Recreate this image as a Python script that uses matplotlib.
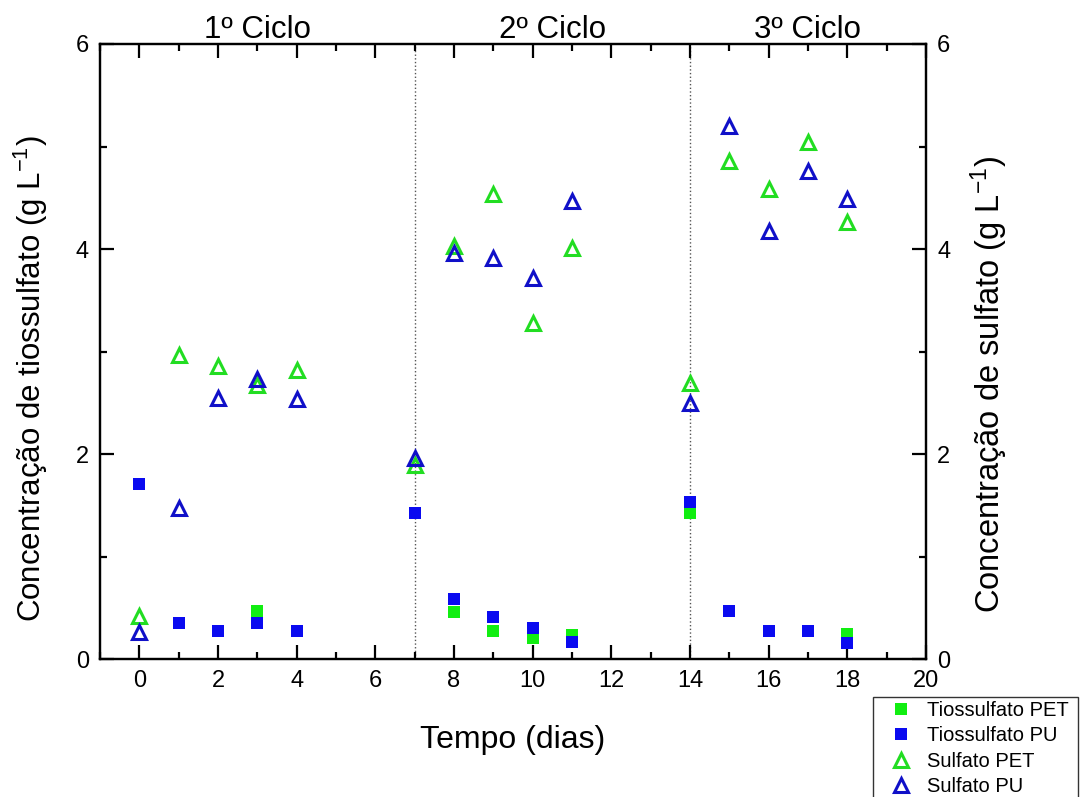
import matplotlib
matplotlib.use("Agg")
import matplotlib.pyplot as plt
from matplotlib.ticker import MultipleLocator

plt.rcParams['font.family'] = ['Liberation Sans', 'DejaVu Sans']
plt.rcParams['mathtext.fontset'] = 'custom'
plt.rcParams['mathtext.rm'] = 'Liberation Sans'
plt.rcParams['mathtext.it'] = 'Liberation Sans'

# dados
dias = [0, 1, 2, 3, 4, 7, 8, 9, 10, 11, 14, 15, 16, 17, 18]
tio_pet = [1.71, 0.35, 0.27, 0.47, 0.27, 1.42, 0.46, 0.27, 0.21, 0.23, 1.42, 0.47, 0.27, 0.27, 0.24]
tio_pu = [1.71, 0.35, 0.27, 0.35, 0.27, 1.42, 0.59, 0.41, 0.30, 0.17, 1.53, 0.47, 0.27, 0.27, 0.16]
sulf_pet = [0.42, 2.97, 2.86, 2.67, 2.82, 1.89, 4.03, 4.54, 3.28, 4.01, 2.69, 4.86, 4.59, 5.04, 4.26]
sulf_pu = [0.26, 1.47, 2.55, 2.73, 2.54, 1.96, 3.96, 3.91, 3.72, 4.47, 2.50, 5.20, 4.18, 4.76, 4.49]

ciclos = ['1º Ciclo', '2º Ciclo', '3º Ciclo']
ciclos_x = [3, 10.5, 17]
divisoes = [7, 14]

verde = '#11ee11'
azul = '#0a0af0'
verde_tri = '#22dd22'
azul_tri = '#1010c8'

fig = plt.figure(figsize=(10.8, 7.97), dpi=100)
ax = fig.add_axes([0.0926, 0.1731, 0.7648, 0.7717])
ax2 = ax.twinx()

for x in divisoes:
    ax.axvline(x, color='#555555', linestyle=':', linewidth=1.0, zorder=1)

h1, = ax.plot(dias, tio_pet, 's', color=verde, markersize=9, markeredgewidth=0,
              linestyle='none', label='Tiossulfato PET', zorder=3)
h2, = ax.plot(dias, tio_pu, 's', color=azul, markersize=9, markeredgewidth=0,
              linestyle='none', label='Tiossulfato PU', zorder=4)
h3, = ax2.plot(dias, sulf_pet, '^', markerfacecolor='none', markeredgecolor=verde_tri,
               markersize=10, markeredgewidth=2.2, linestyle='none', label='Sulfato PET')
h4, = ax2.plot(dias, sulf_pu, '^', markerfacecolor='none', markeredgecolor=azul_tri,
               markersize=10, markeredgewidth=2.2, linestyle='none', label='Sulfato PU')

ax.set_xlim(-1, 20)
ax.set_ylim(0, 6)
ax2.set_ylim(0, 6)

ax.xaxis.set_major_locator(MultipleLocator(2))
ax.xaxis.set_minor_locator(MultipleLocator(1))
for a in (ax, ax2):
    a.yaxis.set_major_locator(MultipleLocator(2))
    a.yaxis.set_minor_locator(MultipleLocator(1))
    for s in a.spines.values():
        s.set_linewidth(1.6)

ax.tick_params(which='both', direction='in', top=True, width=1.6, labelsize=17, pad=8)
ax.tick_params(which='major', length=10)
ax.tick_params(which='minor', length=5)
ax2.tick_params(which='both', direction='in', width=1.6, labelsize=17, pad=8)
ax2.tick_params(which='major', length=10)
ax2.tick_params(which='minor', length=5)

ax.set_xlabel('Tempo (dias)', fontsize=23, labelpad=24)
ax.set_ylabel('Concentração de tiossulfato (g L$^{-1}$)', fontsize=22.5)
ax2.set_ylabel('Concentração de sulfato (g L$^{-1}$)', fontsize=23.5)
ax.yaxis.set_label_coords(-0.060, 0.455)
ax2.yaxis.set_label_coords(1.052, 0.446)

for nome, xc in zip(ciclos, ciclos_x):
    ax.text(xc, 0.998, nome, transform=ax.get_xaxis_transform(), ha='center',
            va='bottom', fontsize=22.5)

leg = fig.legend(handles=[h1, h2, h3, h4], loc='upper left',
                 bbox_to_anchor=(873 / 1080, 0.0, 205 / 1080, 1 - 697 / 797),
                 mode='expand', fontsize=14.5,
                 numpoints=1, frameon=True, fancybox=False, edgecolor='black',
                 borderpad=0.2, labelspacing=0.32, handlelength=2.4,
                 handletextpad=0.1, borderaxespad=0)
leg.get_frame().set_linewidth(1.0)

fig.savefig('out.png', dpi=100)
